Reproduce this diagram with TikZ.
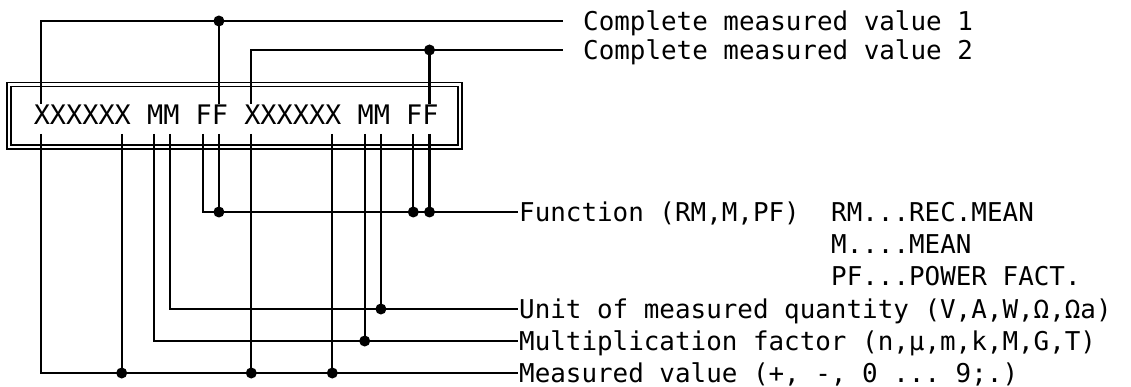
\documentclass[tikz,border=0pt]{standalone}
\usepackage{fontspec}
\setmonofont{DejaVu Sans Mono}
\begin{document}
\begin{tikzpicture}[x=1pt,y=-1pt,line width=2.3pt,
  lbl/.style={anchor=west,inner sep=0pt,font=\ttfamily\fontsize{25.9}{30}\selectfont,text height=18.9pt,text depth=0pt},
  disptext/.style={anchor=west,inner sep=0pt,font=\ttfamily\fontsize{26.9}{30}\selectfont,text height=19.6pt,text depth=0pt},
  frame/.style={line width=1.5pt},
  conn/.style={line width=2.3pt},
  dot/.style={fill=black}]
\useasboundingbox (0,0) rectangle (1131,387);
% display frame
\draw[frame] (7,82.5) rectangle (462,149);
\draw[frame] (11,86.5) rectangle (458,145);
\node[disptext] (disp) at (32.6,115.2) {XXXXXX MM FF XXXXXX MM FF};
% attachment points of the characters
\foreach \n/\c in {a/0,b/5,c/7,d/8,e/10,f/11,g/13,h/18,i/20,j/21,k/23,l/24}{
  \coordinate (\n t) at ({40.7+16.2*\c},104);
  \coordinate (\n b) at ({40.7+16.2*\c},134);
}
% labels
\node[lbl] (cv1) at (582,21) {Complete measured value 1};
\node[lbl] (cv2) at (582,50) {Complete measured value 2};
\node[lbl] (fn) at (518,212) {Function (RM,M,PF)};
\node[lbl] (rm) at (830,212) {RM...REC.MEAN};
\node[lbl] (mn) at (830,244) {M....MEAN};
\node[lbl] (pf) at (830,276) {PF...POWER FACT.};
\node[lbl] (unit) at (518,309) {Unit of measured quantity (V,A,W,Ω,Ωa)};
\node[lbl] (mult) at (518,341) {Multiplication factor (n,µ,m,k,M,G,T)};
\node[lbl] (meas) at (518,373) {Measured value (+, -, 0 ... 9;.)};
% complete value 1
\draw[conn] (at) |- ([xshift=-19pt]cv1.west);
\draw[conn] (ft) -- (ft |- cv1.west);
\fill[dot] (ft |- cv1.west) circle (5.5pt);
% complete value 2
\draw[conn] (gt) |- ([xshift=-19pt]cv2.west);
\draw[conn] (lt) -- (lt |- cv2.west);
\fill[dot] (lt |- cv2.west) circle (5.5pt);
% function
\draw[conn] (eb) |- (fn.west);
\foreach \p in {fb,kb,lb}{
  \draw[conn] (\p) -- (\p |- fn.west);
  \fill[dot] (\p |- fn.west) circle (5.5pt);
}
% unit
\draw[conn] (db) |- (unit.west);
\draw[conn] (jb) -- (jb |- unit.west);
\fill[dot] (jb |- unit.west) circle (5.5pt);
% multiplication factor
\draw[conn] (cb) |- (mult.west);
\draw[conn] (ib) -- (ib |- mult.west);
\fill[dot] (ib |- mult.west) circle (5.5pt);
% measured value
\draw[conn] (ab) |- (meas.west);
\foreach \p in {bb,gb,hb}{
  \draw[conn] (\p) -- (\p |- meas.west);
  \fill[dot] (\p |- meas.west) circle (5.5pt);
}
\end{tikzpicture}
\end{document}
